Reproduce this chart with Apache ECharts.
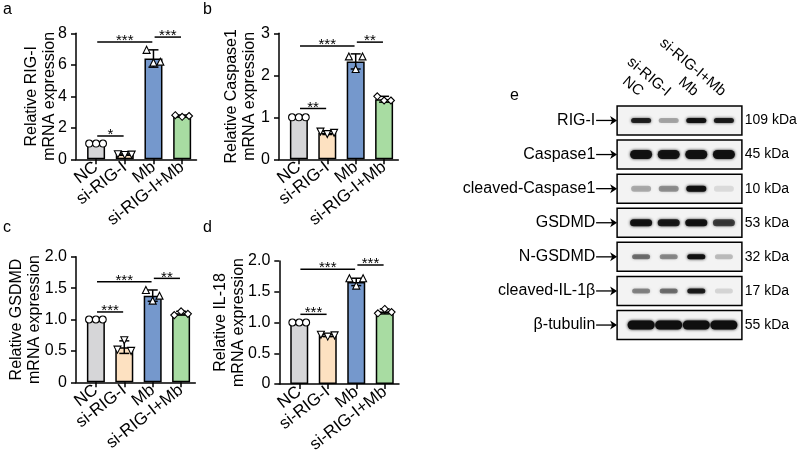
<!DOCTYPE html>
<html><head><meta charset="utf-8">
<script src="https://cdn.jsdelivr.net/npm/echarts@6/dist/echarts.min.js"></script>
<style>html,body{margin:0;padding:0;background:#fff}#c{width:798px;height:468px}</style>
</head><body><div id="c"></div>
<script>
// ---------- data ----------
const groups = ['NC', 'si-RIG-I', 'Mb', 'si-RIG-I+Mb'];
const barColors = ['#d6d6d8', '#fde1c1', '#7598cc', '#a8dca2'];

// a: RIG-I
const rigMean = [1.0, 0.3, 6.4, 2.75];
const rigSd = [0, 0.04, 0.55, 0.06];
const rigPts = [[1, 1, 1], [0.32, 0.27, 0.3], [6.95, 6.15, 6.2], [2.8, 2.7, 2.75]];
const rigSig = [[0, 2, 7.45, '***'], [2, 3, 7.76, '***'], [0, 1, 1.48, '*']];
// b: Caspase1
const caspMean = [1.0, 0.63, 2.33, 1.43];
const caspSd = [0, 0.04, 0.18, 0.07];
const caspPts = [[1, 1, 1], [0.66, 0.6, 0.63], [2.45, 2.15, 2.45], [1.5, 1.4, 1.4]];
const caspSig = [[0, 2, 2.70, '***'], [2, 3, 2.79, '**'], [0, 1, 1.21, '**']];
// c: GSDMD
const gsdmdMean = [1.0, 0.56, 1.38, 1.1];
const gsdmdSd = [0, 0.1, 0.09, 0.03];
const gsdmdPts = [[1, 1, 1], [0.52, 0.67, 0.5], [1.47, 1.3, 1.38], [1.07, 1.13, 1.09]];
const gsdmdSig = [[0, 2, 1.60, '***'], [2, 3, 1.655, '**'], [0, 1, 1.12, '***']];
// d: IL-18
const il18Mean = [1.0, 0.79, 1.66, 1.18];
const il18Sd = [0, 0.02, 0.06, 0.04];
const il18Pts = [[1, 1, 1], [0.8, 0.77, 0.79], [1.72, 1.6, 1.72], [1.15, 1.22, 1.17]];
const il18Sig = [[0, 2, 1.865, '***'], [2, 3, 1.935, '***'], [0, 1, 1.133, '***']];

// e: western blot
const lanes = ['NC', 'si-RIG-I', 'Mb', 'si-RIG-I+Mb'];
const proteins = ['RIG-I', 'Caspase1', 'cleaved-Caspase1', 'GSDMD', 'N-GSDMD', 'cleaved-IL-1β', 'β-tubulin'];
const kda = ['109 kDa', '45 kDa', '10 kDa', '53 kDa', '32 kDa', '17 kDa', '55 kDa'];
const bandIntensity = [
  [0.85, 0.30, 0.97, 0.88],
  [0.97, 0.94, 0.97, 0.97],
  [0.28, 0.38, 0.97, 0.10],
  [0.94, 0.90, 0.94, 0.70],
  [0.50, 0.40, 0.97, 0.22],
  [0.42, 0.50, 0.88, 0.12],
  [1.00, 1.00, 1.00, 1.00]
];
const bandHeight = [5, 9, 6, 7, 5, 5, 9];
const bandWidth = [20, 22, 20, 22, 18, 18, 27];

// ---------- layout ----------
const panels = [
  {mean: rigMean, sd: rigSd, pts: rigPts, sig: rigSig, max: 8, interval: 2, name: 'Relative RIG-I\nmRNA expression', dec: 0, gap: 17,
   grid: {left: 76, top: 33.3, width: 120.5, height: 126}},
  {mean: caspMean, sd: caspSd, pts: caspPts, sig: caspSig, max: 3, interval: 1, name: 'Relative Caspase1\nmRNA expression', dec: 0, gap: 20,
   grid: {left: 279, top: 33.3, width: 119.3, height: 126}},
  {mean: gsdmdMean, sd: gsdmdSd, pts: gsdmdPts, sig: gsdmdSig, max: 2, interval: 0.5, name: 'Relative GSDMD\nmRNA expression', dec: 1, gap: 32,
   grid: {left: 76, top: 256.7, width: 119.3, height: 125.6}},
  {mean: il18Mean, sd: il18Sd, pts: il18Pts, sig: il18Sig, max: 2, interval: 0.5, name: 'Relative IL-18\nmRNA expression', dec: 1, gap: 32,
   grid: {left: 279.3, top: 261, width: 119.7, height: 123}}
];
const FONT = 'Liberation Sans, Arial, sans-serif';
const symbols = ['circle', 'path://M0,0L20,0L10,17.3Z', 'triangle', 'diamond'];
const jitter = [-0.24, 0, 0.24];
const blk = {color: '#000', width: 1.5};

const grids = [], xAxes = [], yAxes = [], series = [];
panels.forEach((p, k) => {
  grids.push(Object.assign({outerBoundsMode: 'none', containLabel: false}, p.grid));
  xAxes.push({
    gridIndex: k, type: 'value', min: -0.7, max: 3.5,
    axisLine: {show: true, onZero: false, lineStyle: blk},
    axisTick: {show: true, customValues: [0, 1, 2, 3], length: 5, lineStyle: blk},
    axisLabel: {customValues: [0, 1, 2, 3], formatter: v => groups[Math.round(v)], rotate: 38,
      fontSize: 17, color: '#000', margin: 6, fontFamily: FONT},
    splitLine: {show: false}
  });
  yAxes.push({
    gridIndex: k, type: 'value', min: 0, max: p.max, interval: p.interval,
    axisLine: {show: true, onZero: false, lineStyle: blk},
    axisTick: {show: true, length: 5, lineStyle: blk},
    axisLabel: {fontSize: 16, color: '#000', margin: 9, fontFamily: FONT,
      formatter: v => v === 0 ? '0' : v.toFixed(p.dec)},
    splitLine: {show: false},
    name: p.name, nameLocation: 'middle', nameRotate: 90, nameGap: p.gap, nameMoveOverlap: false,
    nameTextStyle: {fontSize: 16, color: '#000', lineHeight: 18, fontFamily: FONT}
  });
  series.push({
    type: 'bar', xAxisIndex: k, yAxisIndex: k, barWidth: 18, z: 2,
    data: p.mean.map((m, i) => ({value: [i, m], itemStyle: {color: barColors[i]}})),
    itemStyle: {borderColor: '#000', borderWidth: 1.5},
    animation: false
  });
  series.push({
    type: 'custom', xAxisIndex: k, yAxisIndex: k, z: 3, animation: false,
    encode: {x: 0, y: [1, 2]},
    data: p.mean.map((m, i) => [i, m - p.sd[i], m + p.sd[i]]),
    renderItem: (params, api) => {
      const x = api.value(0);
      const lo = api.coord([x, api.value(1)]), hi = api.coord([x, api.value(2)]);
      if (Math.abs(lo[1] - hi[1]) < 1) return {type: 'group', children: []};
      const w = 5;
      const st = {stroke: '#000', lineWidth: 1.5};
      return {type: 'group', children: [
        {type: 'line', shape: {x1: lo[0], y1: lo[1], x2: hi[0], y2: hi[1]}, style: st},
        {type: 'line', shape: {x1: hi[0] - w, y1: hi[1], x2: hi[0] + w, y2: hi[1]}, style: st},
        {type: 'line', shape: {x1: lo[0] - w, y1: lo[1], x2: lo[0] + w, y2: lo[1]}, style: st}
      ]};
    }
  });
  const pts = [];
  p.pts.forEach((arr, i) => arr.forEach((v, j) => pts.push({value: [i + jitter[j], v], symbol: symbols[i]})));
  series.push({
    type: 'scatter', xAxisIndex: k, yAxisIndex: k, z: 4, animation: false,
    symbolSize: 7, data: pts,
    itemStyle: {color: '#fff', borderColor: '#000', borderWidth: 1.1, opacity: 1}
  });
  series.push({
    type: 'custom', xAxisIndex: k, yAxisIndex: k, z: 5, animation: false,
    encode: {x: [0, 1], y: 2},
    data: p.sig.map(s => [s[0], s[1], s[2]]),
    renderItem: (params, api) => {
      const s = p.sig[params.dataIndex];
      const a = api.coord([api.value(0) + 0.04, api.value(2)]);
      const b = api.coord([api.value(1) - 0.04, api.value(2)]);
      return {type: 'group', children: [
        {type: 'line', shape: {x1: a[0], y1: a[1], x2: b[0], y2: b[1]}, style: {stroke: '#000', lineWidth: 1.5}},
        {type: 'text', x: (a[0] + b[0]) / 2, y: a[1] - 1,
          style: {text: s[3], fontSize: 15, fontFamily: FONT, fill: '#000', align: 'center', verticalAlign: 'middle'}}
      ]};
    }
  });
});

// ---------- blot panel ----------
const bk = 4;
grids.push({left: 627.3, top: 103.4, width: 110.4, height: 238.7, outerBoundsMode: 'none', containLabel: false});
xAxes.push({
  gridIndex: bk, type: 'category', data: lanes, position: 'top',
  axisLine: {show: false}, axisTick: {show: false},
  axisLabel: {rotate: 40, fontSize: 15, color: '#000', margin: 10, fontFamily: FONT, interval: 0}
});
yAxes.push({
  gridIndex: bk, type: 'category', data: proteins, inverse: true,
  axisLine: {show: false}, axisTick: {show: false},
  axisLabel: {fontSize: 16, color: '#000', margin: 32, fontFamily: FONT, interval: 0}
});
yAxes.push({
  gridIndex: bk, type: 'category', data: proteins, inverse: true, position: 'right',
  axisLine: {show: false}, axisTick: {show: false},
  axisLabel: {fontSize: 14, color: '#000', margin: 7, fontFamily: FONT, interval: 0,
    formatter: (v, i) => kda[i]}
});
// boxes and arrows
series.push({
  type: 'custom', xAxisIndex: bk, yAxisIndex: bk, z: 2, animation: false,
  data: proteins.map((p, r) => [0, r]),
  renderItem: (params, api) => {
    const r = api.value(1);
    const p0 = api.coord([0, r]), p3 = api.coord([3, r]);
    const left = p0[0] - 24, right = p3[0] + 18, h = 29;
    const ay = p0[1];
    return {type: 'group', children: [
      {type: 'rect', shape: {x: left, y: ay - h / 2, width: right - left, height: h},
        style: {fill: '#f3f3f3', stroke: '#000', lineWidth: 1.5}},
      {type: 'line', shape: {x1: left - 21, y1: ay, x2: left - 4, y2: ay}, style: {stroke: '#000', lineWidth: 1.3}},
      {type: 'polygon', shape: {points: [[left, ay], [left - 7, ay - 4.5], [left - 5, ay], [left - 7, ay + 4.5]]},
        style: {fill: '#000'}}
    ]};
  }
});
// bands
const bandData = [];
bandIntensity.forEach((row, r) => row.forEach((v, l) => bandData.push([l, r, v])));
series.push({
  type: 'custom', xAxisIndex: bk, yAxisIndex: bk, z: 3, animation: false,
  data: bandData,
  renderItem: (params, api) => {
    const l = api.value(0), r = api.value(1), a = api.value(2);
    const c = api.coord([l, r]);
    const w = bandWidth[r], h = bandHeight[r];
    const col = 'rgba(15,15,15,' + a + ')';
    return {type: 'rect', shape: {x: c[0] - w / 2, y: c[1] - h / 2, width: w, height: h, r: h / 2},
      style: {fill: col, shadowBlur: 3, shadowColor: col}};
  }
});

// panel letters
const letters = [['a', 3, 2], ['b', 203, 2], ['c', 3, 220], ['d', 203, 220], ['e', 510, 88]];
const graphic = letters.map(l => ({type: 'text', left: l[1], top: l[2],
  style: {text: l[0], fontSize: 16, fontFamily: FONT, fill: '#000'}}));

const chart = echarts.init(document.getElementById('c'), null, {renderer: 'canvas'});
chart.setOption({
  animation: false, backgroundColor: '#fff',
  grid: grids, xAxis: xAxes, yAxis: yAxes, series: series, graphic: graphic
});
</script>
</body></html>
